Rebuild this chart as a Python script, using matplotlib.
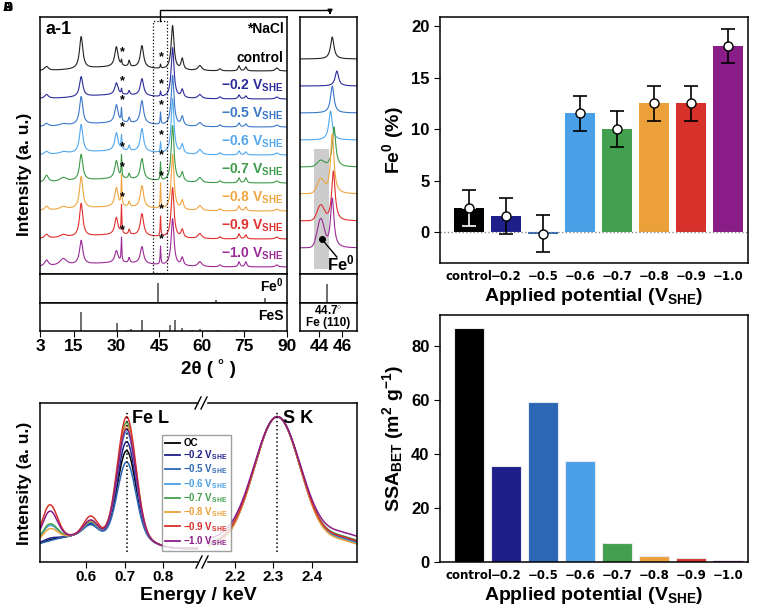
import numpy as np
import matplotlib
matplotlib.use('Agg')
import matplotlib.pyplot as plt
from matplotlib.lines import Line2D
from matplotlib.patches import Rectangle

plt.rcParams['font.family'] = ['Liberation Sans', 'DejaVu Sans']
plt.rcParams['font.weight'] = 'bold'
plt.rcParams['axes.labelweight'] = 'bold'
plt.rcParams['mathtext.fontset'] = 'custom'
plt.rcParams['mathtext.rm'] = 'Liberation Sans:bold'
plt.rcParams['mathtext.it'] = 'Liberation Sans:bold'
plt.rcParams['mathtext.bf'] = 'Liberation Sans:bold'
plt.rcParams['axes.linewidth'] = 1.1

# ---------------- data ----------------
samples = ['control', '\u22120.2', '\u22120.5', '\u22120.6', '\u22120.7', '\u22120.8', '\u22120.9', '\u22121.0']
bar_colors = ['#000000', '#1f1f8a', '#2b67b5', '#4aa0e6', '#43a04e', '#eba03a', '#d8302a', '#8a1d87']
xrd_colors = ['#222222', '#2b2b9c', '#3a78c8', '#52a8ee', '#3c9a48', '#f0a540', '#e0302e', '#9b2a98']

# XRD peak table (2theta, HWHM) and heights per sample (a.u.)
xrd_pos = [5.3, 11.2, 17.5, 29.9, 34.4, 38.9, 49.7, 53.1, 59.3, 66.4, 73.1, 75.5, 86.4]
xrd_wid = [0.8, 1.5, 0.7, 0.7, 0.3, 0.7, 0.6, 0.5, 0.8, 0.5, 0.4, 0.4, 0.6]
xrd_h = [
    [4, 0, 32, 20, 6, 22, 44, 11, 5, 2, 5, 4, 3],
    [4, 0, 20, 12, 4, 17, 50, 8, 4, 2, 4, 3, 2],
    [3, 2, 28, 18, 5, 23, 50, 9, 4, 2, 4, 3, 2],
    [3, 2, 28, 18, 5, 23, 55, 9, 5, 2, 4, 3, 2],
    [7, 4, 26, 18, 5, 21, 56, 9, 5, 2, 5, 5, 2],
    [4, 3, 32, 19, 5, 22, 55, 9, 5, 2, 5, 4, 2],
    [4, 3, 33, 17, 5, 22, 50, 8, 5, 2, 5, 4, 2],
    [6, 7, 24, 12, 5, 17, 47, 8, 5, 2, 5, 5, 2],
]
nacl_pos = [31.7, 45.45]
nacl_h31 = [5, 5, 13, 14, 22, 30, 28, 24]
nacl_h45 = [4, 5, 12, 10, 18, 25, 20, 18]

# zoomed 42-47 deg window
zoom_peak_pos = [45.15, 45.55, 45.15, 45.0, 45.3, 45.15, 45.25, 45.15]
zoom_peak_h = [22, 15, 27, 29, 40, 60, 50, 50]
zoom_fe_h = [0, 0, 0, 0, 6, 14, 15, 28]

fe_ref_pos = [44.7, 65.0, 82.3]
fe_ref_h = [0.69, 0.10, 0.17]
fes_ref_pos = [17.6, 30.1, 33.9, 35.0, 39.1, 48.9, 50.4, 53.1, 56.5, 59.3, 65.6, 72.2, 75.6, 85.5]
fes_ref_h = [0.68, 0.30, 0.04, 0.06, 0.40, 0.22, 0.40, 0.12, 0.03, 0.06, 0.03, 0.03, 0.05, 0.04]

# Fe0 content (%)
fe0_pct = [2.3, 1.6, -0.15, 11.55, 10.0, 12.5, 12.5, 18.05]
fe0_err = [1.75, 1.75, 1.77, 1.7, 1.72, 1.7, 1.7, 1.65]

# BET surface area
ssa = [86.9, 35.6, 59.2, 37.6, 7.2, 2.4, 1.4, 0.9]

# EDS components per sample
eds_labels = ['OC'] + [s + ' V$_{SHE}$' for s in samples[1:]]
eds_o = [0.01, 0.02, 0.005, 0.10, 0.11, 0.08, 0.23, 0.19]
eds_bump = [0.07, 0.065, 0.06, 0.075, 0.08, 0.085, 0.115, 0.09]
eds_fel = [0.571, 0.628, 0.50, 0.69, 0.75, 0.73, 0.785, 0.71]
eds_sk_base = [0.10, 0.10, 0.10, 0.095, 0.115, 0.09, 0.11, 0.14]
eds_sk_peak = [0.914] * 8

W, H = 759, 606
fig = plt.figure(figsize=(W / 100, H / 100), dpi=100)


def box(x0, y0, x1, y1):
    return [x0 / W, 1 - y1 / H, (x1 - x0) / W, (y1 - y0) / H]


def lorentz(x, x0, w):
    return 1.0 / (1.0 + ((x - x0) / w) ** 2)


def gauss(x, x0, s):
    return np.exp(-0.5 * ((x - x0) / s) ** 2)


for s in ['A', 'B', 'C', 'D']:
    fig.text(3 / W, 1 - 2 / H, s, fontsize=9, ha='left', va='top')

# ---------------- a-1 XRD ----------------
ax_main = fig.add_axes(box(40, 17, 287, 274))
ax_fe = fig.add_axes(box(40, 274, 287, 303))
ax_fes = fig.add_axes(box(40, 303, 287, 331))
ax_in = fig.add_axes(box(300, 17, 357, 274))
ax_in_fe = fig.add_axes(box(300, 274, 357, 303))
ax_in_fes = fig.add_axes(box(300, 303, 357, 331))

tt = np.linspace(3, 90, 4000)
tz = np.linspace(42.35, 47.3, 600)
for i in range(8):
    base = 7 + (7 - i) * 28
    y = base + 4 * gauss(tt, 30, 12)
    for p, w, h in zip(xrd_pos, xrd_wid, xrd_h[i]):
        y = y + h * lorentz(tt, p, w)
    y = y + nacl_h31[i] * lorentz(tt, nacl_pos[0], 0.15) + nacl_h45[i] * lorentz(tt, nacl_pos[1], 0.15)
    ax_main.plot(tt, y, color=xrd_colors[i], lw=0.8)
    for p in nacl_pos:
        k = np.argmin(abs(tt - p))
        ax_main.text(p + 0.3, y[k] + 1, '*', fontsize=9, ha='center', va='bottom', color='black')
    lab = samples[i] if i == 0 else samples[i] + ' V$_{SHE}$'
    ax_main.text(88.8, base + 13, lab, color=xrd_colors[i] if i else 'black', fontsize=10,
                 ha='right', va='center')

    zb = 26 + (7 - i) * 27
    yz = zb + zoom_peak_h[i] * lorentz(tz, zoom_peak_pos[i], 0.18) + zoom_fe_h[i] * gauss(tz, 44.15, 0.3)
    ax_in.plot(tz, yz, color=xrd_colors[i], lw=0.8)

ax_main.set_xlim(3, 90)
ax_main.set_ylim(0, 257)
ax_main.set_xticks([])
ax_main.set_yticks([])
ax_main.text(5, 244, 'a-1', fontsize=13, ha='left', va='center')
ax_main.text(88.8, 245, '*NaCl', fontsize=10, ha='right', va='center')
ax_main.add_patch(Rectangle((42.8, 1), 4.9, 252, fill=False, ls=':', lw=0.9, ec='black', zorder=5))

ax_fe.vlines(fe_ref_pos, 0, fe_ref_h, color='#555555', lw=1.2)
ax_fe.text(88.8, 0.6, 'Fe$^{0}$', fontsize=10, ha='right', va='center')
ax_fes.vlines(fes_ref_pos, 0, fes_ref_h, color='#555555', lw=1.2)
ax_fes.text(88.8, 0.55, 'FeS', fontsize=10, ha='right', va='center')
for a in (ax_fe, ax_fes):
    a.set_xlim(3, 90)
    a.set_ylim(0, 1)
    a.set_yticks([])
ax_fe.set_xticks([])
ax_fes.set_xticks([3, 15, 30, 45, 60, 75, 90])
ax_fes.tick_params(axis='x', direction='out', length=4, labelsize=12.5, pad=2)

ax_in.axvspan(43.6, 44.9, ymin=5 / 257, ymax=125 / 257, color='#cccccc', zorder=0, lw=0)
ax_in.plot([44.24], [35], 'o', color='black', ms=4)
ax_in.plot([44.24, 45.55], [35, 17], color='black', lw=1)
ax_in.text(45.9, 11, 'Fe$^{0}$', fontsize=12, ha='center', va='center')
ax_in.set_xlim(42.35, 47.3)
ax_in.set_ylim(0, 257)
ax_in.set_xticks([])
ax_in.set_yticks([])
ax_in_fe.vlines([44.7], 0, 0.66, color='#555555', lw=1.2)
ax_in_fes.text(44.8, 0.75, '44.7$^{\\circ}$', fontsize=8.5, ha='center', va='center')
ax_in_fes.text(44.8, 0.29, 'Fe (110)', fontsize=8.5, ha='center', va='center')
for a in (ax_in_fe, ax_in_fes):
    a.set_xlim(42.35, 47.3)
    a.set_ylim(0, 1)
    a.set_yticks([])
ax_in_fe.set_xticks([])
ax_in_fes.set_xticks([44, 46])
ax_in_fes.tick_params(axis='x', direction='out', length=4, labelsize=12.5, pad=2)

# connector arrow from dotted window to zoom panel
fig.add_artist(Line2D([160 / W, 160 / W, 330 / W], [1 - 21 / H, 1 - 10 / H, 1 - 10 / H],
                      color='black', lw=1, transform=fig.transFigure))
fig.add_artist(matplotlib.patches.FancyArrowPatch((330 / W, 1 - 10 / H), (330 / W, 1 - 17.5 / H),
                                                  transform=fig.transFigure, arrowstyle='-|>',
                                                  mutation_scale=7, color='black', lw=1))

fig.text(25 / W, 1 - 174 / H, 'Intensity (a. u.)', rotation=90, fontsize=12.5, ha='center', va='center')
fig.text(208 / W, 1 - 368 / H, '2\u03b8 ( \u02da )', fontsize=13.5, ha='center', va='center')

# ---------------- c EDS ----------------
axl = fig.add_axes(box(40, 403, 198, 562))
axr = fig.add_axes(box(208, 403, 357, 562))
el = np.linspace(0.48, 0.89, 500)
er = np.linspace(2.13, 2.517, 500)
for i in range(8):
    yl = (0.085 + 0.09 * gauss(el, 0.6, 0.08) + eds_o[i] * gauss(el, 0.505, 0.02)
          + eds_bump[i] * gauss(el, 0.612, 0.018) + eds_fel[i] * gauss(el, 0.705, 0.024)
          + 0.03 * gauss(el, 0.76, 0.03))
    axl.plot(el, yl, color=bar_colors[i], lw=1.1)
    bump = 0.035 * gauss(er, 2.48, 0.035)
    yr = (eds_sk_base[i] + bump + (eds_sk_peak[i] - eds_sk_base[i]) * gauss(er, 2.31, 0.06))
    axr.plot(er, yr, color=bar_colors[i], lw=1.1)
axl.set_xlim(0.48, 0.89)
axr.set_xlim(2.13, 2.517)
for a in (axl, axr):
    a.set_ylim(0, 1)
    a.set_yticks([])
    a.tick_params(axis='x', direction='out', length=4, labelsize=11, pad=2)
axl.set_xticks([0.6, 0.7, 0.8])
axr.set_xticks([2.2, 2.3, 2.4])
axl.spines['right'].set_visible(False)
axr.spines['left'].set_visible(False)
axl.axvline(0.705, ymin=0.06, ymax=0.95, ls=':', color='black', lw=1.1)
axr.axvline(2.31, ymin=0.06, ymax=0.95, ls=':', color='black', lw=1.1)
axl.text(0.72, 0.9, 'Fe L', fontsize=13, ha='left', va='center')
axr.text(2.325, 0.9, 'S K', fontsize=13, ha='left', va='center')
for xp, yp in [(202, 403), (203, 562)]:
    for dx in (-4, 2):
        fig.add_artist(Line2D([(xp + dx - 3) / W, (xp + dx + 3) / W], [1 - (yp + 6) / H, 1 - (yp - 6) / H],
                              color='black', lw=1, transform=fig.transFigure))
handles = [Line2D([], [], color=c, lw=1.3) for c in bar_colors]
leg = fig.legend(handles, eds_labels, loc='upper left', bbox_to_anchor=(162 / W, 1 - 435 / H),
                 fontsize=7, frameon=True, fancybox=False, edgecolor='#888888', handlelength=1.6,
                 handletextpad=0.3, labelspacing=0.05, borderpad=0.3, borderaxespad=0)
for t, c in zip(leg.get_texts(), bar_colors):
    t.set_color(c)
fig.text(25 / W, 1 - 483 / H, 'Intensity (a. u.)', rotation=90, fontsize=12.5, ha='center', va='center')
fig.text(198 / W, 1 - 595 / H, 'Energy / keV', fontsize=14, ha='center', va='center')

# ---------------- b Fe0 bars ----------------
xb = np.arange(len(samples))
axb = fig.add_axes(box(440, 17, 748, 263))
axb.bar(xb, fe0_pct, width=0.8, color=bar_colors)
axb.errorbar(xb, fe0_pct, yerr=fe0_err, fmt='none', ecolor='black', capsize=5, elinewidth=1.2, capthick=1.2)
axb.errorbar([0], [fe0_pct[0]], yerr=[[fe0_err[0]], [0]], fmt='none', ecolor='white', capsize=5,
             elinewidth=1.2, capthick=1.2)
axb.plot(xb, fe0_pct, 'o', mfc='white', mec='black', ms=6.5, mew=1, zorder=5)
axb.axhline(0, ls=':', color='#888888', lw=1)
axb.set_xlim(-0.785, 7.54)
axb.set_ylim(-3, 20.9)
axb.set_yticks([0, 5, 10, 15, 20])
axb.set_ylabel('Fe$^{0}$ (%)', fontsize=14)
axb.set_xlabel('Applied potential (V$_{SHE}$)', fontsize=14, labelpad=2)

# ---------------- d BET bars ----------------
axd = fig.add_axes(box(440, 315, 748, 562))
axd.bar(xb, ssa, width=0.8, color=bar_colors, edgecolor='#e8e8f0', lw=0.8)
axd.set_xlim(-0.785, 7.54)
axd.set_ylim(0, 91.6)
axd.set_yticks([0, 20, 40, 60, 80])
axd.set_ylabel('SSA$_{BET}$ (m$^{2}$ g$^{-1}$)', fontsize=14)
axd.set_xlabel('Applied potential (V$_{SHE}$)', fontsize=14, labelpad=2)

for a in (axb, axd):
    a.set_xticks(xb)
    a.set_xticklabels(samples, fontfamily='DejaVu Sans', fontsize=8.5, fontweight='bold')
    a.tick_params(axis='x', length=0, pad=5)
    a.tick_params(axis='y', direction='out', length=4, labelsize=12)

fig.savefig('out.png', dpi=100, facecolor='white')
